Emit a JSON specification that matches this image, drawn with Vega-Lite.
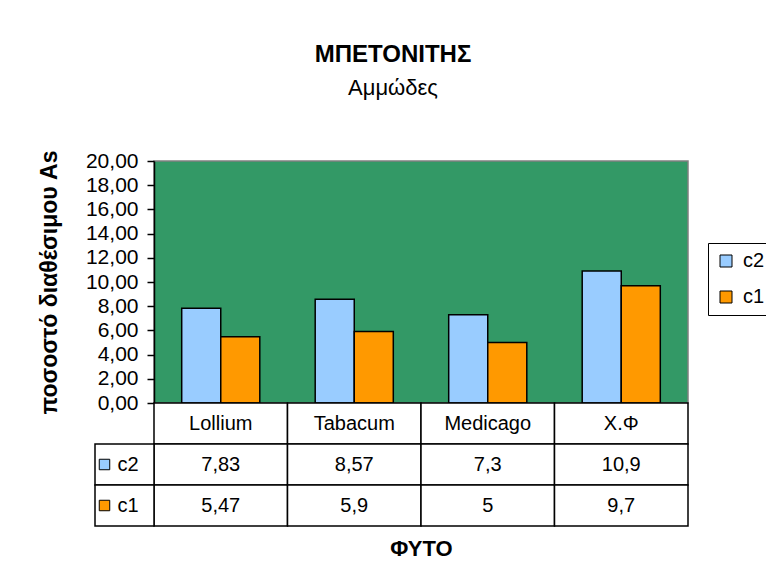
{
  "$schema": "https://vega.github.io/schema/vega-lite/v6.json",
  "width": 534,
  "height": 242,
  "autosize": {"type": "none"},
  "padding": {"left": 154, "top": 161, "right": 78, "bottom": 183},
  "background": "white",
  "config": {
    "font": "Liberation Sans",
    "view": {"fill": "#339966", "stroke": "#808080", "strokeWidth": 1.5}
  },
  "title": {
    "text": "ΜΠΕΤΟΝΙΤΗΣ",
    "subtitle": "Αμμώδες",
    "anchor": "middle",
    "dx": -28,
    "fontSize": 24,
    "fontWeight": "bold",
    "color": "black",
    "subtitleFontSize": 22,
    "subtitleColor": "black",
    "subtitlePadding": 11,
    "offset": 51
  },
  "data": {
    "values": [
      {"plant": "Lollium", "series": "c2", "value": 7.83},
      {"plant": "Lollium", "series": "c1", "value": 5.47},
      {"plant": "Tabacum", "series": "c2", "value": 8.57},
      {"plant": "Tabacum", "series": "c1", "value": 5.9},
      {"plant": "Medicago", "series": "c2", "value": 7.3},
      {"plant": "Medicago", "series": "c1", "value": 5},
      {"plant": "Χ.Φ", "series": "c2", "value": 10.9},
      {"plant": "Χ.Φ", "series": "c1", "value": 9.7}
    ]
  },
  "layer": [
    {
      "mark": {"type": "bar", "stroke": "black", "strokeWidth": 1.5},
      "encoding": {
        "x": {
          "field": "plant",
          "type": "nominal",
          "sort": ["Lollium", "Tabacum", "Medicago", "Χ.Φ"],
          "scale": {"paddingInner": 0.415, "paddingOuter": 0.2075},
          "axis": {
            "title": "ΦΥΤΟ",
            "labels": false,
            "ticks": false,
            "domain": false,
            "offset": 123,
            "titleFontSize": 22,
            "titleFontWeight": "bold",
            "titleColor": "black",
            "titlePadding": 12
          }
        },
        "xOffset": {"field": "series", "type": "nominal", "scale": {"domain": ["c2", "c1"]}},
        "y": {
          "field": "value",
          "type": "quantitative",
          "scale": {"domain": [0, 20]},
          "axis": {
            "values": [0, 2, 4, 6, 8, 10, 12, 14, 16, 18, 20],
            "labelExpr": "replace(format(datum.value, '.2f'), '.', ',')",
            "grid": false,
            "domainColor": "black",
            "domainWidth": 1.5,
            "tickColor": "black",
            "tickSize": 7,
            "tickWidth": 1.5,
            "labelFontSize": 21,
            "labelColor": "black",
            "labelPadding": 9,
            "labelFlush": false,
            "labelOverlap": false,
            "title": "ποσοστό διαθέσιμου As",
            "titleFontSize": 23,
            "titleFontWeight": "bold",
            "titleColor": "black",
            "titlePadding": 24
          }
        },
        "color": {
          "field": "series",
          "type": "nominal",
          "scale": {"domain": ["c2", "c1"], "range": ["#99CCFF", "#FF9900"]},
          "legend": {
            "orient": "none",
            "legendX": 554,
            "legendY": 82,
            "title": null,
            "strokeColor": "black",
            "fillColor": "white",
            "padding": 8,
            "symbolType": "square",
            "symbolSize": 144,
            "symbolStrokeColor": "black",
            "symbolStrokeWidth": 1,
            "symbolOpacity": 1,
            "labelFontSize": 20,
            "labelColor": "black",
            "labelOffset": 7,
            "rowPadding": 16
          }
        }
      }
    },
    {
      "encoding": {
        "x": {
          "field": "plant",
          "type": "nominal",
          "sort": ["Lollium", "Tabacum", "Medicago", "Χ.Φ"],
          "scale": {"type": "band", "paddingInner": 0, "paddingOuter": 0},
          "axis": null
        }
      },
      "layer": [
        {
          "transform": [{"filter": "datum.series == 'c2'"}],
          "mark": {"type": "rect", "fill": "white", "stroke": "black", "strokeWidth": 1.5},
          "encoding": {
            "y": {"datum": "header", "type": "nominal", "scale": {"type": "band", "domain": ["header", "c2", "c1"], "range": [242, 365], "paddingInner": 0, "paddingOuter": 0}, "axis": null}
          }
        },
        {
          "mark": {"type": "rect", "fill": "white", "stroke": "black", "strokeWidth": 1.5},
          "encoding": {
            "y": {"field": "series", "type": "nominal", "scale": {"type": "band", "domain": ["header", "c2", "c1"], "range": [242, 365], "paddingInner": 0, "paddingOuter": 0}, "axis": null}
          }
        },
        {
          "transform": [{"filter": "datum.series == 'c2'"}],
          "mark": {"type": "text", "fontSize": 20, "color": "black"},
          "encoding": {
            "y": {"datum": "header", "type": "nominal", "scale": {"type": "band", "domain": ["header", "c2", "c1"], "range": [242, 365], "paddingInner": 0, "paddingOuter": 0}, "axis": null},
            "text": {"field": "plant"}
          }
        },
        {
          "transform": [{"calculate": "replace(toString(datum.value), '.', ',')", "as": "label"}],
          "mark": {"type": "text", "fontSize": 20, "color": "black"},
          "encoding": {
            "y": {"field": "series", "type": "nominal", "scale": {"type": "band", "domain": ["header", "c2", "c1"], "range": [242, 365], "paddingInner": 0, "paddingOuter": 0}, "axis": null},
            "text": {"field": "label"}
          }
        }
      ]
    },
    {
      "transform": [{"filter": "datum.plant == 'Lollium'"}],
      "encoding": {
        "x": {"datum": "key", "type": "nominal", "scale": {"type": "band", "range": [-59, 0], "paddingInner": 0, "paddingOuter": 0}, "axis": null},
        "y": {"field": "series", "type": "nominal", "scale": {"type": "band", "domain": ["c2", "c1"], "range": [283, 365], "paddingInner": 0, "paddingOuter": 0}, "axis": null}
      },
      "layer": [
        {"mark": {"type": "rect", "fill": "white", "stroke": "black", "strokeWidth": 1.5}},
        {
          "mark": {"type": "point", "shape": "square", "filled": true, "size": 110, "stroke": "black", "strokeWidth": 1, "opacity": 1, "xOffset": -20},
          "encoding": {"color": {"field": "series", "type": "nominal"}}
        },
        {
          "mark": {"type": "text", "align": "left", "dx": -7, "fontSize": 20, "color": "black"},
          "encoding": {"text": {"field": "series"}}
        }
      ]
    }
  ],
  "resolve": {"scale": {"x": "independent", "y": "independent"}}
}
